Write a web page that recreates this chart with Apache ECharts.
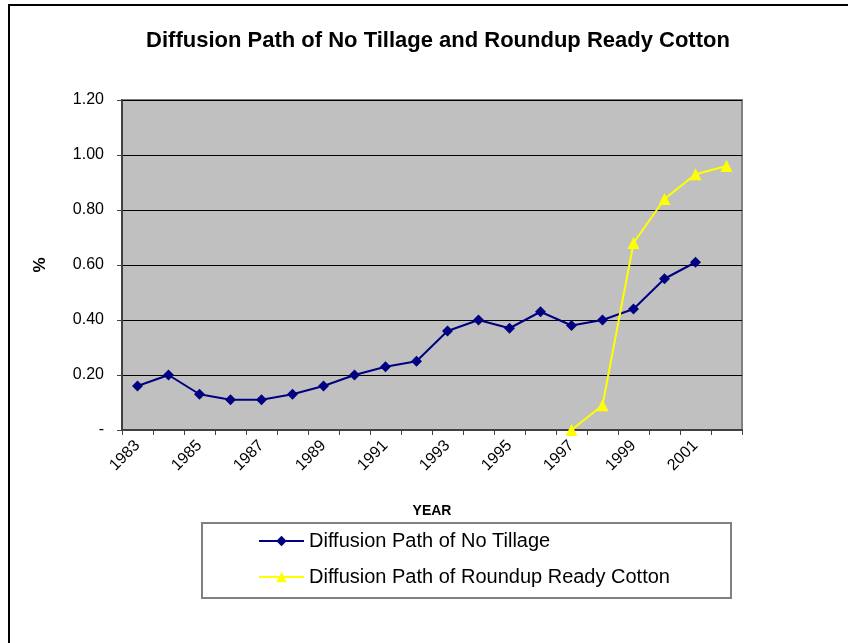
<!DOCTYPE html>
<html>
<head>
<meta charset="utf-8">
<script src="https://cdn.jsdelivr.net/npm/echarts@6/dist/echarts.min.js"></script>
<style>
  html, body { margin: 0; padding: 0; background: #fff; }
  #main { width: 848px; height: 643px; }
</style>
</head>
<body>
<div id="main"></div>
<script>
var years = ['1983', '1984', '1985', '1986', '1987', '1988', '1989', '1990', '1991', '1992',
             '1993', '1994', '1995', '1996', '1997', '1998', '1999', '2000', '2001', '2002'];
var noTillage = [0.16, 0.20, 0.13, 0.11, 0.11, 0.13, 0.16, 0.20, 0.23, 0.25,
                 0.36, 0.40, 0.37, 0.43, 0.38, 0.40, 0.44, 0.55, 0.61, null];
var roundup = [null, null, null, null, null, null, null, null, null, null,
               null, null, null, null, 0, 0.09, 0.68, 0.84, 0.93, 0.96];
var yTicks = [0, 0.2, 0.4, 0.6, 0.8, 1.0, 1.2];

var font = 'Liberation Sans, Arial, sans-serif';
var myChart = echarts.init(document.getElementById('main'));

var option = {
  animation: false,
  backgroundColor: '#fff',
  title: {
    text: 'Diffusion Path of No Tillage and Roundup Ready Cotton',
    left: 433,
    textAlign: 'center',
    top: 25,
    textStyle: { fontFamily: font, fontSize: 22, fontWeight: 'bold', color: '#000' }
  },
  legend: {
    orient: 'vertical',
    left: 253,
    top: 526,
    itemWidth: 45,
    itemHeight: 13,
    itemGap: 16,
    textStyle: { fontFamily: font, fontSize: 20, color: '#000' },
    data: ['Diffusion Path of No Tillage', 'Diffusion Path of Roundup Ready Cotton']
  },
  grid: {
    left: 122, right: 106, top: 100, bottom: 213,
    show: true,
    backgroundColor: '#c0c0c0',
    borderColor: '#808080',
    borderWidth: 2
  },
  xAxis: {
    type: 'category',
    data: years,
    boundaryGap: true,
    name: 'YEAR',
    nameLocation: 'middle',
    nameGap: 74,
    nameTextStyle: { fontFamily: font, fontSize: 14, fontWeight: 'bold', color: '#000' },
    axisLine: { lineStyle: { color: '#404040', width: 2 } },
    axisTick: { show: true, interval: 0, length: 5, lineStyle: { color: '#404040' } },
    axisLabel: {
      interval: 1, rotate: 45, margin: 13,
      fontFamily: font, fontSize: 16, color: '#000'
    },
    splitLine: { show: false }
  },
  yAxis: {
    type: 'value',
    min: yTicks[0],
    max: yTicks[yTicks.length - 1],
    interval: 0.2,
    name: '%',
    nameLocation: 'middle',
    nameGap: 73,
    nameTextStyle: { fontFamily: font, fontSize: 17, fontWeight: 'bold', color: '#000' },
    axisLine: { show: true, lineStyle: { color: '#404040', width: 2 } },
    axisTick: { show: true, length: 5, lineStyle: { color: '#404040' } },
    axisLabel: {
      margin: 18,
      fontFamily: font, fontSize: 16, color: '#000',
      formatter: function (v) { return v === 0 ? '-' : v.toFixed(2); }
    },
    splitLine: { show: true, lineStyle: { color: '#000', width: 1 } }
  },
  graphic: [
    {
      type: 'rect',
      shape: { x: 202, y: 523, width: 529, height: 75 },
      style: { fill: 'none', stroke: '#808080', lineWidth: 2 },
      z: -1
    },
    {
      type: 'polyline',
      shape: { points: [[9, 643], [9, 5], [848, 5]] },
      style: { fill: 'none', stroke: '#000', lineWidth: 2 }
    }
  ],
  series: [
    {
      name: 'Diffusion Path of No Tillage',
      type: 'line',
      data: noTillage,
      symbol: 'diamond',
      symbolSize: 11,
      lineStyle: { color: '#000080', width: 2 },
      itemStyle: { color: '#000080' }
    },
    {
      name: 'Diffusion Path of Roundup Ready Cotton',
      type: 'line',
      data: roundup,
      symbol: 'triangle',
      symbolSize: 12,
      lineStyle: { color: '#ffff00', width: 2 },
      itemStyle: { color: '#ffff00' }
    }
  ]
};
myChart.setOption(option);
</script>
</body>
</html>
